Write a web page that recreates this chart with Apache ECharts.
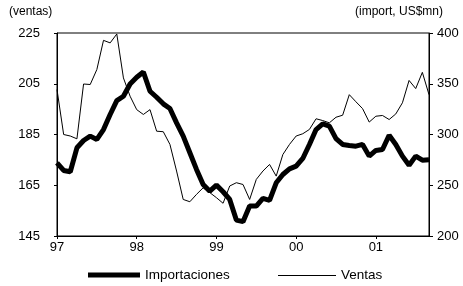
<!DOCTYPE html>
<html>
<head>
<meta charset="utf-8">
<script src="https://cdn.jsdelivr.net/npm/echarts@6/dist/echarts.min.js"></script>
<style>
  html, body { margin: 0; padding: 0; background: #fff; }
  #chart { width: 463px; height: 286px; }
</style>
</head>
<body>
<div id="chart"></div>
<script>
const years = ["97", "98", "99", "00", "01"];
const monthsInLastYear = 9;

// ventas, left axis (thin line)
const ventas = [
  202.7, 185.0, 184.4, 183.3, 204.9, 204.7, 210.6, 222.1, 221.1, 224.6, 207.3, 200.1,
  194.8, 192.9, 194.8, 186.3, 186.1, 181.1, 170.6, 159.4, 158.5, 161.4, 164.0, 162.1,
  160.1, 157.9, 164.7, 166.0, 165.3, 159.4, 167.3, 170.6, 173.2, 168.6, 177.1, 181.1,
  184.4, 185.3, 187.0, 191.2, 190.5, 189.6, 191.8, 192.6, 200.7, 197.9, 195.2, 189.9,
  192.2, 192.5, 190.9, 193.1, 197.5, 206.3, 203.1, 209.5, 200.7,
];

// importaciones, US$mn, right axis (thick line)
const importaciones = [
  272.1, 264.6, 263.3, 286.9, 294.1, 298.4, 295.1, 304.9, 319.7, 333.4, 337.7, 349.8,
  356.4, 361.6, 342.6, 336.7, 330.2, 325.6, 311.5, 298.4, 282.0, 265.6, 250.8, 244.2,
  250.1, 243.6, 236.0, 215.7, 214.1, 229.5, 229.5, 237.0, 235.1, 252.4, 260.6, 266.2,
  268.8, 276.4, 290.2, 304.9, 310.5, 308.2, 296.0, 290.2, 289.2, 288.5, 290.2, 278.7,
  284.3, 285.2, 299.3, 290.2, 278.7, 269.8, 278.7, 274.7, 275.1,
];

const categories = [];
years.forEach((y, yi) => {
  const n = yi === years.length - 1 ? monthsInLastYear : 12;
  for (let m = 1; m <= n; m++) categories.push(y + "-" + m);
});

const font = "Liberation Sans, Arial, sans-serif";
const legendText = { fontFamily: font, fontSize: 13.5, color: "#000" };
const chart = echarts.init(document.getElementById("chart"));

chart.setOption({
  animation: false,
  textStyle: { fontFamily: font, color: "#000" },
  grid: {
    left: 57,
    right: 34,
    top: 33,
    bottom: 50,
    show: true,
    borderColor: "#000",
    borderWidth: 1,
  },
  // two legends so each swatch keeps its own line thickness
  legend: [
    {
      left: 88,
      top: 268,
      padding: 0,
      icon: "rect",
      itemWidth: 52,
      itemHeight: 5,
      itemGap: 0,
      textStyle: legendText,
      data: ["Importaciones"],
    },
    {
      left: 278,
      top: 268.5,
      padding: 0,
      icon: "rect",
      itemWidth: 58,
      itemHeight: 1,
      itemGap: 0,
      textStyle: legendText,
      data: ["Ventas"],
    },
  ],
  graphic: [
    {
      type: "text",
      left: 9,
      top: 6,
      style: { text: "(ventas)", font: "12px " + font, fill: "#000" },
    },
    {
      type: "text",
      right: 20,
      top: 6,
      style: { text: "(import, US$mn)", font: "12px " + font, fill: "#000" },
    },
  ],
  xAxis: {
    type: "category",
    data: categories,
    boundaryGap: false,
    axisLine: { lineStyle: { color: "#000", width: 1 } },
    axisTick: {
      interval: (i) => i % 12 === 0,
      length: 3,
      lineStyle: { color: "#000" },
    },
    axisLabel: {
      interval: (i) => i % 12 === 0,
      formatter: (v) => v.split("-")[0],
      fontSize: 13,
      margin: 5,
      color: "#000",
    },
    splitLine: { show: false },
  },
  yAxis: [
    {
      type: "value",
      min: 145,
      max: 225,
      interval: 20,
      axisLine: { show: true, lineStyle: { color: "#000" } },
      axisTick: { show: true, length: 3, lineStyle: { color: "#000" } },
      axisLabel: { fontSize: 13, margin: 17, color: "#000" },
      splitLine: { show: false },
    },
    {
      type: "value",
      min: 200,
      max: 400,
      interval: 50,
      position: "right",
      axisLine: { show: true, lineStyle: { color: "#000" } },
      axisTick: { show: true, length: 4, lineStyle: { color: "#000" } },
      axisLabel: { fontSize: 13, margin: 8, color: "#000" },
      splitLine: { show: false },
    },
  ],
  series: [
    {
      name: "Importaciones",
      type: "line",
      yAxisIndex: 1,
      data: importaciones,
      symbol: "none",
      lineStyle: { color: "#000", width: 5 },
      itemStyle: { color: "#000" },
    },
    {
      name: "Ventas",
      type: "line",
      yAxisIndex: 0,
      data: ventas,
      symbol: "none",
      lineStyle: { color: "#000", width: 1 },
      itemStyle: { color: "#000" },
    },
  ],
});
</script>
</body>
</html>
